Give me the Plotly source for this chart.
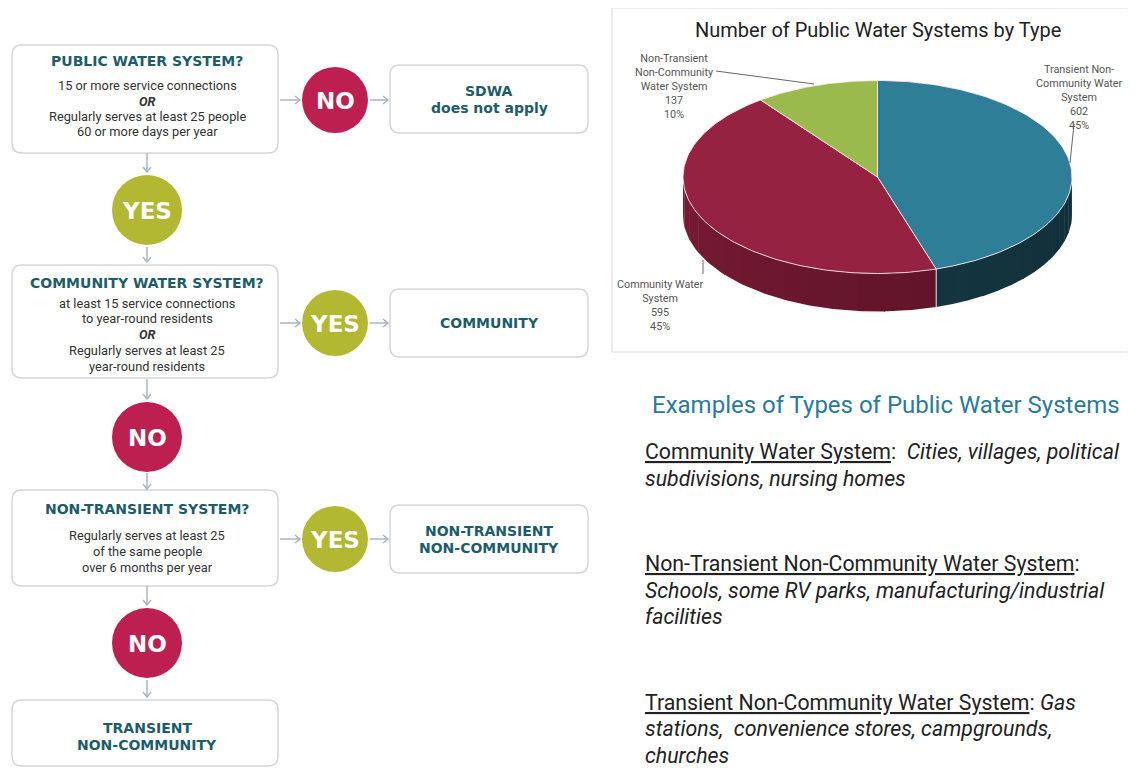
import numpy as np
import plotly.graph_objects as go

# ---------------- data ----------------
pie_categories = ["Transient Non-Community Water System",
                  "Community Water System",
                  "Non-Transient Non-Community Water System"]
pie_counts = [602, 595, 137]
pie_label_names = ["Transient Non-<br>Community Water<br>System",
                   "Community Water<br>System",
                   "Non-Transient<br>Non-Community<br>Water System"]
pie_title = "Number of Public Water Systems by Type"

flow_questions = ["PUBLIC WATER SYSTEM?", "COMMUNITY WATER SYSTEM?", "NON-TRANSIENT SYSTEM?"]
flow_criteria = [
    ["15 or more service connections", "<b><i>OR</i></b>",
     "Regularly serves at least 25 people", "60 or more days per year"],
    ["at least 15 service connections", "to year-round residents", "<b><i>OR</i></b>",
     "Regularly serves at least 25", "year-round residents"],
    ["Regularly serves at least 25", "of the same people", "over 6 months per year"],
]
flow_side_answers = ["NO", "YES", "YES"]
flow_side_results = [["SDWA", "does not apply"], ["COMMUNITY"], ["NON-TRANSIENT", "NON-COMMUNITY"]]
flow_down_answers = ["YES", "NO", "NO"]
flow_final = ["TRANSIENT", "NON-COMMUNITY"]

examples_heading = "Examples of Types of Public Water Systems"
example_lines = [
    ["<u>Community Water System</u>:  <i>Cities, villages, political</i>",
     "<i>subdivisions, nursing homes</i>"],
    ["<u>Non-Transient Non-Community Water System</u>:",
     "<i>Schools, some RV parks, manufacturing/industrial</i>",
     "<i>facilities</i>"],
    ["<u>Transient Non-Community Water System</u>: <i>Gas</i>",
     "<i>stations,  convenience stores, campgrounds,</i>",
     "<i>churches</i>"],
]

# ---------------- styles ----------------
W, H = 1135, 768
OFF = 8  # page body margin compensation
TEAL = "#1e5c69"
NO_COL = "#be1f51"
YES_COL = "#b3b833"
BOX_LINE = "#d3d6d8"
ARROW_COL = "#aab6c0"
BODY_COL = "#333333"
HEAD_FONT = "DejaVu Sans"
slice_top = ["#2f7e97", "#952240", "#9bba4d"]
slice_side_a = ["#1d4b59", "#7a1b36", "#6f8a33"]
slice_side_b = ["#112e38", "#4e0f21", "#55691f"]

fig = go.Figure()
shapes = []
annotations = []


def rrect(x0, y0, x1, y1, r=10):
    return (f"M{x0+r},{y0} L{x1-r},{y0} Q{x1},{y0} {x1},{y0+r} L{x1},{y1-r} "
            f"Q{x1},{y1} {x1-r},{y1} L{x0+r},{y1} Q{x0},{y1} {x0},{y1-r} "
            f"L{x0},{y0+r} Q{x0},{y0} {x0+r},{y0} Z")


def box(x0, y0, x1, y1):
    shapes.append(dict(type="path", path=rrect(x0, y0, x1, y1), xref="x", yref="y",
                       line=dict(color=BOX_LINE, width=1.5), fillcolor="white", layer="below"))


def text(x, y, s, size, color, family="Roboto", xanchor="center", yanchor="middle"):
    annotations.append(dict(x=x, y=y, xref="x", yref="y", text=s, showarrow=False,
                            xanchor=xanchor, yanchor=yanchor,
                            font=dict(family=family, size=size, color=color)))


def circle(cx, cy, r, col, label):
    shapes.append(dict(type="circle", xref="x", yref="y", x0=cx - r, x1=cx + r,
                       y0=cy - r, y1=cy + r, fillcolor=col, line=dict(width=0)))
    text(cx, cy + 1, f"<b>{label}</b>", 23, "white", family=HEAD_FONT)


def harrow(x0, x1, y):
    shapes.append(dict(type="line", xref="x", yref="y", x0=x0, x1=x1, y0=y, y1=y,
                       line=dict(color=ARROW_COL, width=1.5)))
    shapes.append(dict(type="path", xref="x", yref="y",
                       path=f"M{x1-5},{y-4} L{x1},{y} L{x1-5},{y+4}",
                       line=dict(color=ARROW_COL, width=1.5)))


def varrow(x, y0, y1):
    shapes.append(dict(type="line", xref="x", yref="y", x0=x, x1=x, y0=y0, y1=y1,
                       line=dict(color=ARROW_COL, width=1.5)))
    shapes.append(dict(type="path", xref="x", yref="y",
                       path=f"M{x-4},{y1-5} L{x},{y1} L{x+4},{y1-5}",
                       line=dict(color=ARROW_COL, width=1.5)))


# ---------------- flowchart ----------------
q_boxes = [(12, 45, 278, 153), (12, 265, 278, 378), (12, 490, 278, 586)]
q_title_y = [61, 283, 509]
q_line_y = [[85, 101, 116, 131], [303, 318, 334, 350, 366], [535, 551, 567]]
side_cy = [100, 323, 539]
side_boxes = [(390, 65, 588, 133), (390, 289, 588, 357), (390, 505, 588, 573)]
down_cy = [210, 437, 643]
down_arrows = [(153, 172), (379, 399), (586, 605)]
down_arrows2 = [(247, 262), (473, 489), (680, 697)]
cx_flow = 147

for i in range(3):
    x0, y0, x1, y1 = q_boxes[i]
    box(x0, y0, x1, y1)
    text(cx_flow, q_title_y[i], f"<b>{flow_questions[i]}</b>", 14, TEAL, family=HEAD_FONT)
    for s, yy in zip(flow_criteria[i], q_line_y[i]):
        text(cx_flow, yy, s, 12.8, BODY_COL)
    # side branch
    harrow(280, 300, side_cy[i])
    circle(335, side_cy[i], 33, NO_COL if flow_side_answers[i] == "NO" else YES_COL,
           flow_side_answers[i])
    harrow(370, 388, side_cy[i])
    bx0, by0, bx1, by1 = side_boxes[i]
    box(bx0, by0, bx1, by1)
    res = flow_side_results[i]
    mid = (by0 + by1) / 2
    n = len(res)
    for k, s in enumerate(res):
        text((bx0 + bx1) / 2, mid + (k - (n - 1) / 2) * 17, f"<b>{s}</b>", 14, TEAL,
             family=HEAD_FONT)
    # down branch
    varrow(cx_flow, *down_arrows[i])
    circle(cx_flow, down_cy[i], 35, NO_COL if flow_down_answers[i] == "NO" else YES_COL,
           flow_down_answers[i])
    varrow(cx_flow, *down_arrows2[i])

box(12, 700, 278, 766)
for k, s in enumerate(flow_final):
    text(cx_flow, 728 + k * 17, f"<b>{s}</b>", 14, TEAL, family=HEAD_FONT)

# ---------------- 3D pie panel ----------------
shapes.append(dict(type="rect", xref="x", yref="y", x0=612, x1=1140, y0=8, y1=352,
                   line=dict(color="#dedede", width=1.2), fillcolor="white", layer="below"))
text(878, 30, pie_title, 20, "#222222")

pcx, pcy, pa, pb, depth = 877.5, 177, 194.5, 96.5, 38
total = float(sum(pie_counts))
bounds = np.concatenate([[0], np.cumsum(pie_counts)]) / total * 360.0


def ell(t):
    t = np.radians(t)
    return pcx + pa * np.sin(t), pcy - pb * np.cos(t)


def hexmix(c1, c2, f):
    a = [int(c1[i:i + 2], 16) for i in (1, 3, 5)]
    b = [int(c2[i:i + 2], 16) for i in (1, 3, 5)]
    return "#" + "".join(f"{int(round(a[j] + (b[j] - a[j]) * f)):02x}" for j in range(3))


# sides (front half: 90..270 degrees)
for i in range(len(pie_counts)):
    t0, t1 = max(bounds[i], 90), min(bounds[i + 1], 270)
    if t1 <= t0:
        continue
    nstrip = 14
    edges = np.linspace(t0, t1, nstrip + 1)
    for k in range(nstrip):
        ts = np.linspace(edges[k], edges[k + 1] + 0.3, 8)
        xs, ys = ell(ts)
        px = np.concatenate([xs, xs[::-1], xs[:1]])
        py = np.concatenate([ys, ys[::-1] + depth, ys[:1]])
        mid = (edges[k] + edges[k + 1]) / 2
        f = np.clip((270 - mid) / 180.0, 0, 1)
        col = hexmix(slice_side_a[i], slice_side_b[i], f) if i == 1 else \
            hexmix(slice_side_b[i], slice_side_a[i], (mid - 90) / 90 * 0.3)
        fig.add_trace(go.Scatter(x=px, y=py, mode="lines", fill="toself", fillcolor=col,
                                 line=dict(width=0, color=col), hoverinfo="skip",
                                 showlegend=False))
    for t in (t0, t1):
        if 90 < t < 270:
            xs, ys = ell(t)
            fig.add_trace(go.Scatter(x=[xs, xs], y=[ys, ys + depth], mode="lines",
                                     line=dict(color="rgba(255,225,230,0.8)", width=1),
                                     hoverinfo="skip", showlegend=False))

# tops
for i in range(len(pie_counts)):
    ts = np.linspace(bounds[i], bounds[i + 1], 120)
    xs, ys = ell(ts)
    px = np.concatenate([[pcx], xs, [pcx]])
    py = np.concatenate([[pcy], ys, [pcy]])
    pct = round(pie_counts[i] / total * 100)
    fig.add_trace(go.Scatter(x=px, y=py, mode="lines", fill="toself", fillcolor=slice_top[i],
                             line=dict(color="rgba(255,235,240,0.85)", width=1),
                             name=pie_categories[i],
                             hovertemplate=f"{pie_categories[i]}<br>{pie_counts[i]} ({pct}%)<extra></extra>",
                             showlegend=False))

# pie labels
label_pos = [(1079, 61), (660, 276), (674, 50)]
for i in range(len(pie_counts)):
    pct = round(pie_counts[i] / total * 100)
    s = f"{pie_label_names[i]}<br>{pie_counts[i]}<br>{pct}%"
    text(label_pos[i][0], label_pos[i][1], s, 10.8, "#555555", yanchor="top")

leaders = [((1074, 124), (1070, 163)), ((703, 260), (703, 274)), ((716, 71), (814, 84))]
for (a, b) in leaders:
    shapes.append(dict(type="line", xref="x", yref="y", x0=a[0], y0=a[1], x1=b[0], y1=b[1],
                       line=dict(color="#666666", width=1)))

# ---------------- examples text ----------------
text(650, 405, examples_heading, 24, "#2b7a98", xanchor="left")
ex_y = [[451, 478], [563, 590, 616], [702, 728, 755]]
for lines, ys in zip(example_lines, ex_y):
    for s, yy in zip(lines, ys):
        text(643, yy, s, 21.3, "#222222", xanchor="left")

fig.update_layout(
    width=W - OFF, height=H - OFF, margin=dict(l=0, r=0, t=0, b=0),
    paper_bgcolor="white", plot_bgcolor="white",
    xaxis=dict(range=[OFF, W], visible=False, fixedrange=True),
    yaxis=dict(range=[H, OFF], visible=False, fixedrange=True),
    shapes=shapes, annotations=annotations, showlegend=False,
)
fig.write_html("out.html")
